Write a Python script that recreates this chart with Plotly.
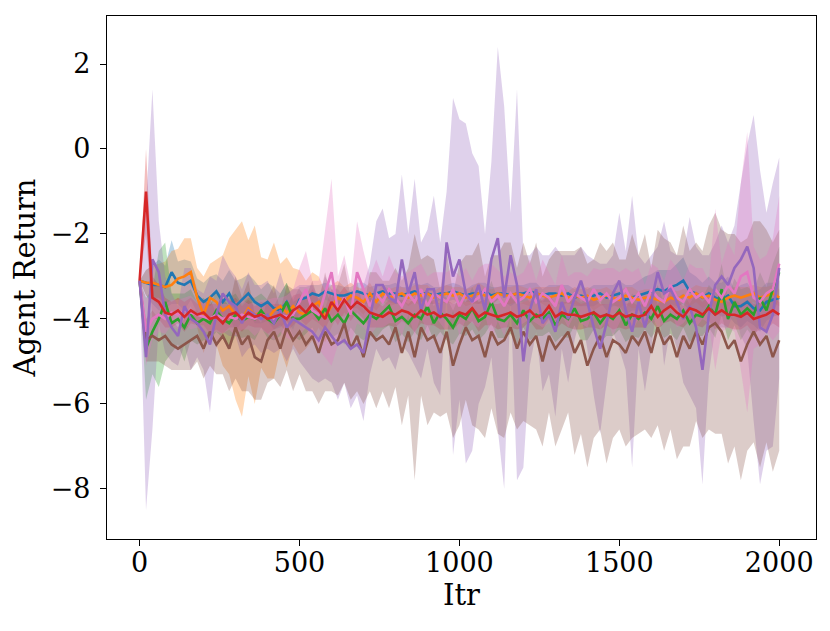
import numpy as np
import plotly.graph_objects as go

itr = list(range(0, 2001, 20))

blue_mean = [
    -3.1, -3.15, -3.2, -3.2, -3.25, -2.9, -3.15, -3.2, -3.1, -3.45,
    -3.6, -3.5, -3.35, -3.6, -3.4, -3.7, -3.55, -3.4, -3.6, -3.7,
    -3.6, -3.75, -3.8, -3.6, -3.9, -3.55, -3.5, -3.4, -3.45, -3.35,
    -3.4, -3.45, -3.45, -3.4, -3.35, -3.4, -3.45, -3.4, -3.35, -3.4,
    -3.4, -3.45, -3.4, -3.35, -3.4, -3.4, -3.45, -3.4, -3.4, -3.35,
    -3.4, -3.45, -3.4, -3.4, -3.35, -3.45, -3.4, -3.4, -3.45, -3.4,
    -3.4, -3.35, -3.4, -3.45, -3.4, -3.4, -3.45, -3.4, -3.5, -3.45,
    -3.5, -3.45, -3.4, -3.5, -3.45, -3.4, -3.55, -3.5, -3.45, -3.4,
    -3.35, -3.3, -3.35, -3.25, -3.2, -3.1, -3.35, -3.4, -3.5, -3.4,
    -3.5, -3.55, -3.45, -3.7, -3.7, -3.6, -3.75, -3.8, -3.6, -3.55,
    -3.5]
blue_std = [
    0.0, 0.3, 0.45, 0.6, 0.5, 0.75, 0.5, 0.6, 0.45, 0.4,
    0.45, 0.5, 0.4, 0.5, 0.55, 0.6, 0.5, 0.45, 0.5, 0.4,
    0.45, 0.5, 0.4, 0.45, 0.35, 0.3, 0.25, 0.2, 0.25, 0.2,
    0.2, 0.25, 0.2, 0.15, 0.2, 0.25, 0.2, 0.2, 0.15, 0.2,
    0.25, 0.2, 0.15, 0.2, 0.2, 0.25, 0.2, 0.15, 0.2, 0.2,
    0.2, 0.15, 0.2, 0.25, 0.2, 0.2, 0.15, 0.2, 0.25, 0.2,
    0.2, 0.2, 0.25, 0.15, 0.2, 0.2, 0.25, 0.2, 0.2, 0.25,
    0.2, 0.25, 0.2, 0.3, 0.25, 0.3, 0.35, 0.3, 0.35, 0.4,
    0.4, 0.45, 0.5, 0.4, 0.5, 0.55, 0.45, 0.4, 0.35, 0.4,
    0.35, 0.4, 0.45, 0.4, 0.5, 0.45, 0.4, 0.5, 0.45, 0.4,
    0.4]

orange_mean = [
    -3.1, -3.15, -3.15, -3.2, -3.25, -3.2, -3.05, -3.0, -2.9, -3.5,
    -3.9, -3.5, -3.6, -3.8, -3.7, -3.9, -4.0, -3.75, -3.9, -3.85,
    -4.0, -3.8, -3.7, -3.85, -3.7, -3.85, -3.9, -3.7, -3.6, -3.95,
    -3.7, -3.5, -3.6, -3.45, -3.5, -3.6, -3.4, -3.6, -3.4, -3.5,
    -3.45, -3.4, -3.5, -3.4, -3.45, -3.4, -3.5, -3.45, -3.4, -3.45,
    -3.4, -3.5, -3.45, -3.4, -3.45, -3.5, -3.4, -3.45, -3.45, -3.4,
    -3.45, -3.5, -3.4, -3.45, -3.5, -3.45, -3.4, -3.5, -3.45, -3.5,
    -3.45, -3.55, -3.5, -3.45, -3.5, -3.55, -3.45, -3.5, -3.55, -3.5,
    -3.5, -3.55, -3.6, -3.5, -3.55, -3.45, -3.5, -3.4, -3.5, -3.45,
    -3.55, -3.6, -3.5, -3.45, -3.5, -3.45, -3.4, -3.5, -3.45, -3.4,
    -3.5]
orange_std = [
    0.0, 0.3, 0.4, 0.5, 0.6, 0.8, 0.7, 0.9, 0.8, 0.7,
    0.9, 0.8, 1.0, 1.3, 1.6, 2.0, 2.3, 1.6, 2.1, 1.3,
    1.4, 1.6, 1.0, 1.3, 0.9, 1.0, 0.8, 0.8, 0.6, 0.6,
    0.5, 0.4, 0.35, 0.3, 0.25, 0.3, 0.25, 0.2, 0.2, 0.2,
    0.2, 0.15, 0.2, 0.2, 0.25, 0.2, 0.15, 0.2, 0.2, 0.2,
    0.15, 0.2, 0.2, 0.25, 0.2, 0.2, 0.15, 0.2, 0.2, 0.2,
    0.2, 0.2, 0.15, 0.2, 0.25, 0.2, 0.2, 0.15, 0.2, 0.2,
    0.2, 0.25, 0.2, 0.2, 0.15, 0.2, 0.2, 0.25, 0.2, 0.2,
    0.2, 0.2, 0.25, 0.2, 0.2, 0.15, 0.2, 0.2, 0.25, 0.2,
    0.2, 0.25, 0.2, 0.2, 0.25, 0.2, 0.2, 0.25, 0.2, 0.2,
    0.2]

green_mean = [
    -3.1, -4.7, -4.3, -4.0, -3.6, -4.1, -4.0, -4.2, -3.9, -4.1,
    -4.0, -4.1, -3.8, -4.0, -4.1, -3.9, -4.05, -3.95, -4.0, -3.8,
    -4.0, -4.1, -3.9, -3.6, -4.0, -4.0, -3.9, -3.8, -4.0, -3.75,
    -4.05, -3.9, -4.1, -3.8, -3.95, -4.1, -3.9, -4.0, -3.85, -3.7,
    -4.05, -3.95, -4.1, -3.9, -4.0, -3.7, -4.1, -3.85, -4.0, -4.2,
    -3.9, -4.0, -3.75, -4.05, -3.95, -3.6, -4.0, -4.05, -3.9, -4.1,
    -3.8, -4.05, -3.9, -4.0, -3.85, -4.15, -3.9, -4.0, -3.75, -4.05,
    -4.0, -3.85, -4.1, -3.9, -4.0, -3.8, -4.15, -3.9, -4.0, -3.85,
    -4.0, -3.7, -4.05, -3.9, -4.0, -3.8, -4.1, -3.9, -3.95, -3.7,
    -3.9, -3.3, -4.0, -3.6, -3.9, -3.75, -3.9, -3.5, -3.8, -3.3,
    -2.9]
green_std = [
    0.0, 1.2, 1.0, 1.6, 1.4, 0.7, 0.6, 0.8, 0.6, 0.5,
    0.5, 0.4, 0.5, 0.45, 0.6, 0.5, 0.4, 0.45, 0.5, 0.4,
    0.45, 0.4, 0.5, 0.45, 0.4, 0.5, 0.45, 0.4, 0.5, 0.45,
    0.4, 0.45, 0.5, 0.4, 0.45, 0.4, 0.5, 0.45, 0.4, 0.45,
    0.5, 0.4, 0.45, 0.4, 0.5, 0.45, 0.4, 0.45, 0.5, 0.4,
    0.45, 0.4, 0.5, 0.45, 0.4, 0.5, 0.45, 0.4, 0.45, 0.5,
    0.4, 0.45, 0.5, 0.4, 0.45, 0.4, 0.5, 0.45, 0.4, 0.45,
    0.5, 0.4, 0.45, 0.5, 0.4, 0.45, 0.4, 0.5, 0.45, 0.4,
    0.45, 0.5, 0.4, 0.45, 0.5, 0.4, 0.45, 0.5, 0.45, 0.5,
    0.55, 0.6, 0.5, 0.55, 0.6, 0.5, 0.55, 0.6, 0.55, 0.6,
    0.6]

red_mean = [
    -3.1, -1.0, -3.5, -3.6, -3.85, -3.9, -3.8, -3.95, -3.8, -3.9,
    -3.85, -4.0, -3.95, -4.1, -3.9, -3.85, -4.0, -3.85, -3.95, -3.9,
    -4.0, -3.95, -3.9, -4.0, -3.8, -3.7, -3.85, -3.65, -3.8, -4.0,
    -3.6, -3.8, -3.55, -3.75, -3.6, -3.7, -3.85, -3.9, -3.95, -3.85,
    -3.9, -3.8, -3.85, -3.95, -3.8, -3.9, -3.85, -3.95, -3.9, -3.95,
    -3.85, -3.9, -3.75, -3.95, -3.85, -3.9, -3.95, -3.9, -3.85, -3.95,
    -3.9, -3.8, -3.95, -3.9, -3.7, -3.95, -3.85, -3.9, -3.9, -3.95,
    -3.9, -3.85, -3.95, -3.9, -3.95, -3.85, -3.95, -3.9, -3.95, -3.9,
    -3.7, -3.95, -3.8, -3.7, -3.85, -3.95, -3.75, -3.8, -3.9, -3.75,
    -3.9, -3.8, -3.9, -3.9, -3.95, -3.85, -4.0, -3.95, -3.9, -3.8,
    -3.9]
red_std = [
    0.0, 1.0, 0.5, 0.4, 0.35, 0.3, 0.3, 0.35, 0.3, 0.25,
    0.3, 0.35, 0.3, 0.25, 0.3, 0.35, 0.3, 0.3, 0.25, 0.3,
    0.35, 0.3, 0.25, 0.3, 0.35, 0.3, 0.3, 0.35, 0.3, 0.25,
    0.3, 0.35, 0.3, 0.3, 0.25, 0.3, 0.35, 0.3, 0.25, 0.3,
    0.3, 0.25, 0.3, 0.35, 0.3, 0.25, 0.3, 0.3, 0.35, 0.3,
    0.25, 0.3, 0.3, 0.35, 0.3, 0.25, 0.3, 0.3, 0.35, 0.3,
    0.3, 0.25, 0.3, 0.35, 0.3, 0.3, 0.25, 0.3, 0.35, 0.3,
    0.3, 0.35, 0.3, 0.25, 0.3, 0.35, 0.3, 0.3, 0.25, 0.3,
    0.35, 0.3, 0.3, 0.35, 0.3, 0.25, 0.3, 0.35, 0.3, 0.3,
    0.35, 0.3, 0.3, 0.35, 0.3, 0.3, 0.35, 0.3, 0.35, 0.3,
    0.3]

purple_mean = [
    -3.1, -4.9, -2.6, -2.9, -3.9, -4.2, -4.4, -3.7, -4.0, -4.1,
    -4.3, -4.6, -3.9, -3.4, -3.6, -3.7, -4.1, -3.8, -3.9, -4.0,
    -3.9, -4.1, -3.8, -4.2, -4.0, -4.1, -4.2, -4.3, -4.5, -4.2,
    -4.4, -4.6, -4.5, -4.7, -4.6, -4.8, -4.0, -3.2, -3.2, -3.5,
    -3.6, -2.6, -3.4, -2.9, -3.8, -3.3, -3.3, -4.0, -2.2, -3.0,
    -2.6, -3.4, -3.6, -3.2, -3.8, -2.6, -2.1, -3.5, -2.5, -3.2,
    -5.0, -3.8, -3.3, -4.1, -3.9, -4.3, -3.6, -4.0, -3.5, -3.1,
    -3.6, -4.2, -4.7, -4.1, -3.4, -3.1, -3.8, -4.3, -3.6, -4.2,
    -3.6, -2.9, -3.4, -3.3, -3.6, -4.0, -3.7, -4.2, -5.2, -3.9,
    -3.2, -3.0, -3.2, -2.8, -2.6, -2.3, -2.8, -4.2, -4.3, -3.9,
    -2.8]
purple_std = [
    0.0, 3.6, 4.0, 1.2, 0.9, 0.8, 0.7, 0.9, 1.2, 0.8,
    0.9, 1.6, 0.8, 0.9, 0.8, 0.7, 0.8, 0.9, 0.7, 0.8,
    0.8, 0.7, 0.9, 0.8, 0.7, 0.9, 1.0, 1.1, 1.0, 1.2,
    1.1, 1.3, 1.0, 1.4, 1.2, 1.6, 1.3, 1.5, 1.8, 1.4,
    1.6, 2.0, 1.4, 2.2, 1.6, 1.4, 2.2, 1.8, 1.2, 4.2,
    3.3, 4.0, 3.5, 2.8, 1.8, 2.3, 4.5, 4.5, 1.0, 4.6,
    2.5, 1.3, 1.0, 1.6, 1.4, 2.0, 1.1, 1.5, 1.0, 0.8,
    1.1, 1.6, 2.0, 1.4, 0.9, 1.6, 1.4, 3.2, 1.1, 1.5,
    1.1, 0.6, 1.7, 0.9, 1.1, 1.5, 2.1, 1.9, 2.7, 1.4,
    1.0, 1.2, 1.0, 1.0, 1.8, 2.4, 3.6, 3.7, 2.8, 3.1,
    2.6]

brown_mean = [
    -3.1, -4.5, -4.4, -4.5, -4.4, -4.6, -4.7, -4.6, -4.5, -4.4,
    -4.7, -4.3, -4.6, -4.4, -4.7, -4.2, -4.6, -4.4, -4.9, -5.0,
    -4.5, -4.3, -4.7, -4.2, -4.5, -4.3, -4.6, -4.4, -4.8, -4.3,
    -4.6, -4.5, -4.1, -4.7, -4.4, -4.9, -4.3, -4.5, -4.4, -4.6,
    -4.2, -4.8, -4.3, -4.9, -4.2, -4.5, -4.4, -4.8, -4.3, -5.1,
    -4.6, -4.2, -4.5, -4.4, -4.9, -4.3, -4.6, -4.5, -4.2, -4.7,
    -4.3, -4.6, -4.4, -5.0, -4.4, -4.7, -4.5, -4.3, -4.8, -4.5,
    -5.1, -4.7, -4.4, -4.9, -4.5, -4.6, -4.8, -4.4, -4.6, -4.3,
    -4.8, -4.2, -4.6, -4.4, -4.9, -4.4, -4.7, -4.3, -4.6, -4.2,
    -4.1, -4.3, -4.7, -4.5, -5.0, -4.6, -4.3, -4.6, -4.4, -4.9,
    -4.5]
brown_std = [
    0.0, 0.5, 0.6, 0.5, 0.7, 0.6, 0.5, 0.6, 0.7, 0.6,
    0.7, 0.8, 0.7, 0.9, 1.0, 1.2, 1.1, 1.3, 1.0, 0.9,
    1.0, 1.1, 0.9, 1.0, 1.2, 1.0, 1.1, 1.3, 1.2, 1.4,
    1.1, 1.3, 1.4, 1.2, 1.3, 1.1, 1.4, 1.6, 1.3, 1.5,
    1.4, 1.7, 1.5, 2.9, 1.6, 2.0, 1.8, 1.5, 1.9, 1.7,
    1.9, 1.7, 2.0, 2.2, 1.9, 1.8, 2.1, 2.3, 2.0, 1.9,
    2.1, 1.9, 2.2, 2.0, 1.8, 2.3, 2.1, 1.9, 2.4, 2.2,
    2.4, 2.1, 2.2, 2.5, 2.3, 2.0, 2.2, 2.4, 2.1, 2.3,
    2.0, 2.3, 2.5, 2.2, 2.4, 2.6, 2.3, 2.1, 2.2, 2.4,
    2.6, 2.4, 2.7, 2.5, 2.8, 2.5, 2.6, 2.9, 2.5, 2.7,
    2.6]

pink_mean = [
    -3.1, -4.3, -4.0, -3.9, -4.0, -3.85, -3.9, -3.8, -3.85, -3.9,
    -3.95, -4.0, -3.9, -4.0, -3.95, -4.0, -3.9, -3.95, -4.0, -3.9,
    -3.95, -4.0, -3.9, -3.95, -3.9, -3.6, -3.3, -3.8, -3.9, -3.4,
    -2.9, -3.8, -3.5, -3.9, -2.9, -3.3, -3.7, -3.4, -3.6, -3.3,
    -3.5, -3.7, -3.4, -3.6, -3.3, -3.7, -3.4, -3.5, -3.6, -3.3,
    -3.7, -3.4, -3.6, -3.5, -3.3, -3.6, -3.45, -3.7, -3.4, -3.6,
    -3.5, -3.3, -3.6, -3.4, -3.5, -3.7, -3.2, -3.6, -3.4, -3.5,
    -3.6, -3.3, -3.55, -3.4, -3.6, -3.5, -3.3, -3.6, -3.4, -3.7,
    -3.3, -3.5, -3.6, -3.2, -3.5, -3.6, -3.3, -3.5, -3.4, -3.6,
    -3.3, -3.5, -3.2, -3.4, -3.0, -2.9, -3.5, -3.6, -3.4, -3.3,
    -2.7]
pink_std = [
    0.0, 0.8, 0.5, 0.4, 0.35, 0.3, 0.35, 0.3, 0.4, 0.3,
    0.35, 0.3, 0.4, 0.35, 0.3, 0.4, 0.35, 0.3, 0.4, 0.35,
    0.4, 0.5, 0.4, 0.5, 0.6, 0.8, 0.9, 0.7, 0.8, 1.5,
    2.2, 0.8, 1.0, 0.7, 1.2, 0.9, 0.7, 0.8, 0.6, 0.8,
    0.6, 0.7, 0.5, 0.8, 0.6, 0.7, 0.5, 0.6, 0.7, 0.5,
    0.7, 0.6, 0.5, 0.7, 0.6, 0.9, 0.6, 0.7, 0.5, 0.6,
    0.6, 0.7, 0.5, 0.8, 0.6, 0.5, 0.7, 0.6, 0.5, 0.6,
    0.6, 0.5, 0.7, 0.6, 0.8, 0.6, 0.5, 0.7, 0.6, 0.5,
    0.6, 0.7, 0.5, 0.6, 0.7, 0.5, 0.6, 0.7, 0.6, 0.5,
    1.9, 0.8, 1.0, 0.9, 2.2, 3.3, 1.2, 1.0, 0.9, 1.2,
    1.6]

series = [
    (blue_mean, blue_std, (31, 119, 180)),
    (orange_mean, orange_std, (255, 127, 14)),
    (green_mean, green_std, (44, 160, 44)),
    (red_mean, red_std, (214, 39, 40)),
    (purple_mean, purple_std, (148, 103, 189)),
    (brown_mean, brown_std, (140, 86, 75)),
    (pink_mean, pink_std, (227, 119, 194)),
]
line_order = [0, 1, 2, 5, 6, 4, 3]

fig = go.Figure()
x = np.array(itr)
for m, s, c in series:
    m = np.array(m)
    s = np.array(s)
    up = m + s
    lo = m - s
    fig.add_trace(go.Scatter(
        x=np.concatenate([x, x[::-1]]),
        y=np.concatenate([up, lo[::-1]]),
        fill="toself", mode="none",
        fillcolor="rgba(%d,%d,%d,0.3)" % c,
        hoverinfo="skip", showlegend=False))
for i in line_order:
    m, s, c = series[i]
    fig.add_trace(go.Scatter(
        x=itr, y=m, mode="lines",
        line=dict(color="rgb(%d,%d,%d)" % c, width=2.6),
        showlegend=False))

axis_common = dict(
    showgrid=False, zeroline=False, showline=True, linecolor="black",
    linewidth=1.3, mirror=True, ticks="outside", ticklen=6, tickwidth=1.3,
    tickcolor="black", tickfont=dict(family="DejaVu Serif", size=27, color="black"),
)
fig.update_layout(
    width=830, height=631,
    margin=dict(l=99, r=22, t=8, b=100),
    paper_bgcolor="white", plot_bgcolor="white",
    font=dict(family="DejaVu Serif", size=29, color="black"),
    xaxis=dict(range=[-102, 2115], tickvals=[0, 500, 1000, 1500, 2000],
               ticklabelstandoff=-7,
               title=dict(text="Itr", standoff=2, font=dict(size=29)), **axis_common),
    yaxis=dict(range=[-9.18, 3.13], tickvals=[-8, -6, -4, -2, 0, 2],
               ticklabelstandoff=4,
               title=dict(text="Agent Return", standoff=10, font=dict(size=29)), **axis_common),
)
fig.write_html("out.html")
